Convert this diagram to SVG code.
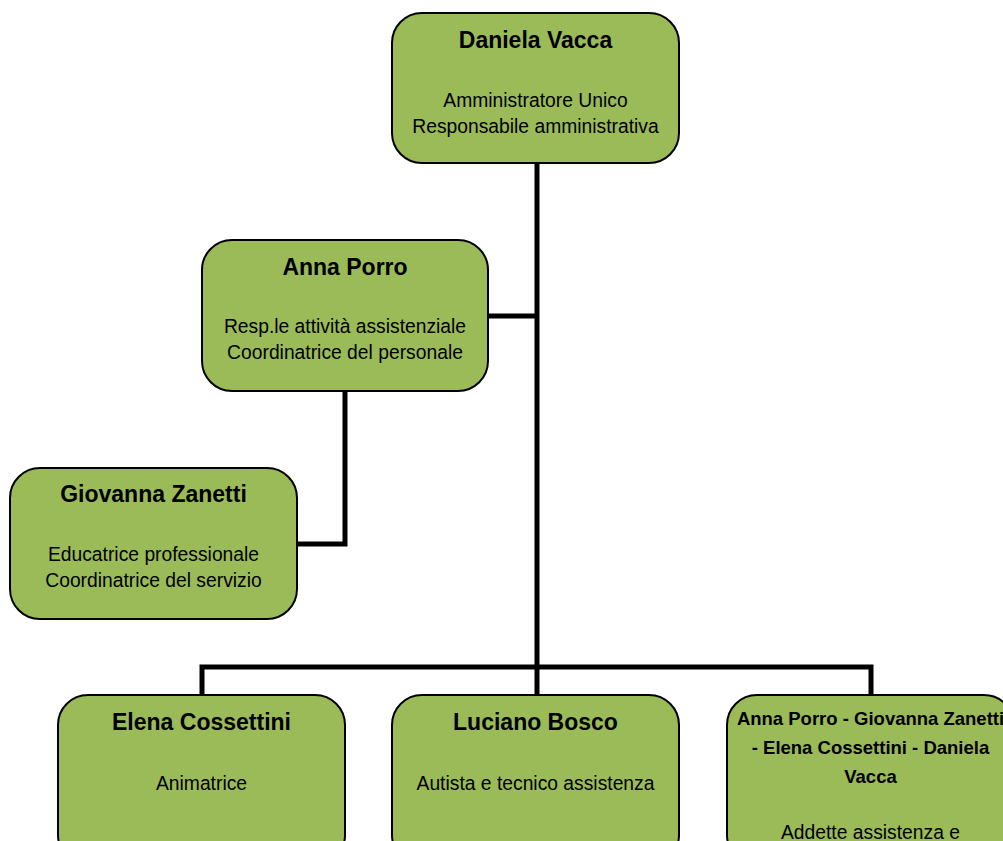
<svg xmlns="http://www.w3.org/2000/svg" width="1003" height="841" viewBox="0 0 1003 841">
<style>
.box{fill:#9BBB59;stroke:#000;stroke-width:2}
.nm{font-family:"Liberation Sans",Arial,sans-serif;font-weight:bold;font-size:23px;fill:#000;text-anchor:middle}
.nm2{font-family:"Liberation Sans",Arial,sans-serif;font-weight:bold;font-size:18.5px;fill:#000;text-anchor:middle}
.tx{font-family:"Liberation Sans",Arial,sans-serif;font-size:19.3px;fill:#000;text-anchor:middle}
.ln{fill:none;stroke:#000;stroke-width:5}
</style>
<rect width="1003" height="841" fill="#fff"/>
<g id="connectors">
<path class="ln" d="M537 163 V695"/>
<path class="ln" d="M488 316 H537"/>
<path class="ln" d="M345 391 V544 H297"/>
<path class="ln" d="M202 695 V667 H871 V695"/>
</g>
<g id="daniela">
<rect class="box" x="392" y="13" width="287" height="150" rx="30"/>
<text class="nm" x="535.5" y="48">Daniela Vacca</text>
<text class="tx" x="535.5" y="107">Amministratore Unico</text>
<text class="tx" x="535.5" y="133">Responsabile amministrativa</text>
</g>
<g id="anna">
<rect class="box" x="202" y="240" width="286" height="151" rx="30"/>
<text class="nm" x="345" y="275">Anna Porro</text>
<text class="tx" x="345" y="333">Resp.le attività assistenziale</text>
<text class="tx" x="345" y="359">Coordinatrice del personale</text>
</g>
<g id="giovanna">
<rect class="box" x="10" y="468" width="287" height="151" rx="30"/>
<text class="nm" x="153.5" y="502">Giovanna Zanetti</text>
<text class="tx" x="153.5" y="561">Educatrice professionale</text>
<text class="tx" x="153.5" y="587">Coordinatrice del servizio</text>
</g>
<g id="elena">
<rect class="box" x="58" y="695" width="287" height="170" rx="30"/>
<text class="nm" x="201.5" y="730">Elena Cossettini</text>
<text class="tx" x="201.5" y="790">Animatrice</text>
</g>
<g id="luciano">
<rect class="box" x="392" y="695" width="287" height="170" rx="30"/>
<text class="nm" x="535.5" y="730">Luciano Bosco</text>
<text class="tx" x="535.5" y="790">Autista e tecnico assistenza</text>
</g>
<g id="addette">
<rect class="box" x="727" y="695" width="287" height="170" rx="30"/>
<text class="nm2" x="870.5" y="725">Anna Porro - Giovanna Zanetti</text>
<text class="nm2" x="870.5" y="754">- Elena Cossettini - Daniela</text>
<text class="nm2" x="870.5" y="783">Vacca</text>
<text class="tx" x="870.5" y="839">Addette assistenza e</text>
</g>
</svg>
